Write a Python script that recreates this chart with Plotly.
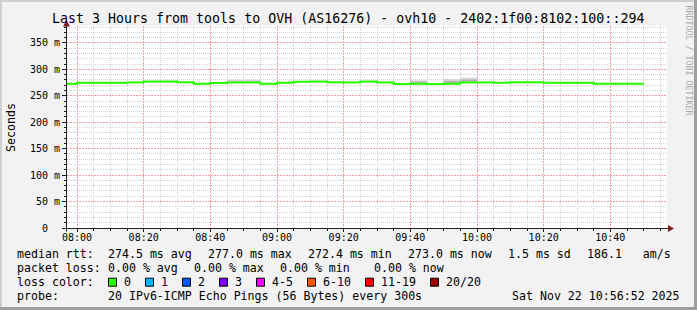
import plotly.graph_objects as go

# ---------------- data ----------------
DAY = "2025-11-22 "
times = ["07:55", "08:00", "08:05", "08:10", "08:15", "08:20", "08:25", "08:30", "08:35",
         "08:40", "08:45", "08:50", "08:55", "09:00", "09:05", "09:10", "09:15", "09:20",
         "09:25", "09:30", "09:35", "09:40", "09:45", "09:50", "09:55", "10:00", "10:05",
         "10:10", "10:15", "10:20", "10:25", "10:30", "10:35", "10:40", "10:45"]
end_time = "10:50"
median_ms = [272.6, 274.6, 274.6, 274.6, 275.2, 277.0, 277.0, 275.6, 272.8,
             274.4, 275.0, 275.2, 272.9, 274.6, 276.8, 276.9, 275.4, 275.3,
             276.9, 275.0, 272.5, 272.6, 272.5, 272.8, 275.2, 275.0, 274.9,
             275.8, 275.8, 274.8, 274.9, 274.8, 273.0, 272.9, 273.0]
smoke_min = [271.6, 273.6, 273.6, 273.6, 274.2, 276.0, 276.0, 274.6, 271.8,
             273.4, 274.0, 274.2, 271.9, 273.6, 275.8, 275.9, 274.4, 274.3,
             275.9, 274.0, 271.5, 271.6, 271.5, 271.8, 274.2, 274.0, 273.9,
             274.8, 274.8, 273.8, 273.9, 273.8, 272.0, 271.9, 272.0]
smoke_max = [273.6, 275.6, 275.6, 275.6, 276.2, 278.0, 278.0, 276.6, 273.8,
             275.4, 280.5, 280.5, 273.9, 275.6, 277.8, 277.9, 276.4, 276.3,
             277.9, 276.0, 273.5, 279.5, 273.5, 281.5, 284.0, 276.0, 275.9,
             276.8, 276.8, 275.8, 275.9, 275.8, 274.0, 273.9, 274.0]
smoke_q3 = [273.0, 275.0, 275.0, 275.0, 275.6, 277.4, 277.4, 276.0, 273.2,
            274.8, 277.5, 277.5, 273.3, 275.0, 277.2, 277.3, 275.8, 275.7,
            277.3, 275.4, 272.9, 276.5, 272.9, 278.0, 281.0, 275.4, 275.3,
            276.2, 276.2, 275.2, 275.3, 275.2, 273.4, 273.3, 273.4]

x_range = ["07:57", "10:57"]
xtick_major = ["08:00", "08:20", "08:40", "09:00", "09:20", "09:40", "10:00", "10:20", "10:40"]
xtick_minor = ["08:05", "08:10", "08:15", "08:25", "08:30", "08:35", "08:45", "08:50", "08:55",
               "09:05", "09:10", "09:15", "09:25", "09:30", "09:35", "09:45", "09:50", "09:55",
               "10:05", "10:10", "10:15", "10:25", "10:30", "10:35", "10:45", "10:50", "10:55"]
ytick_vals = [0, 50, 100, 150, 200, 250, 300, 350]
ytick_text = ["0\u00a0\u00a0", "50 m", "100 m", "150 m", "200 m", "250 m", "300 m", "350 m"]
ytick_minor = [10, 20, 30, 40, 60, 70, 80, 90, 110, 120, 130, 140, 160, 170, 180, 190,
               210, 220, 230, 240, 260, 270, 280, 290, 310, 320, 330, 340, 360, 370, 380]

title_text = "Last 3 Hours from tools to OVH (AS16276) - ovh10 - 2402:1f00:8102:100::294"
rtt_items = ["274.5 ms avg", "277.0 ms max", "272.4 ms min", "273.0 ms now", "1.5 ms sd", "186.1   am/s"]
loss_items = ["0.00 % avg", "0.00 % max", "0.00 % min", "0.00 % now"]
loss_labels = ["0", "1", "2", "3", "4-5", "6-10", "11-19", "20/20"]
loss_colors = ["#26ff00", "#00b8ff", "#0059ff", "#7e00ff", "#ff00ff", "#ff5500", "#ff0000", "#a10000"]
probe_text = "20 IPv6-ICMP Echo Pings (56 Bytes) every 300s"
date_text = "Sat Nov 22 10:56:52 2025"

# ---------------- layout helpers (pixel -> paper) ----------------
W, H = 697, 310
L, R, T, B = 67, 667, 26, 228
def px(p):
    return (p - L) / (R - L)
def py(p):
    return (B - p) / (B - T)
def nb(s):
    return s.replace(" ", "\u00a0")

xs = [DAY + t for t in times] + [DAY + end_time]
def ext(a):
    return list(a) + [a[-1]]

MONO = "DejaVu Sans Mono"
fig = go.Figure()
# smoke outer
fig.add_trace(go.Scatter(x=xs, y=ext(smoke_min), mode="lines", line=dict(width=0, shape="hv"),
                         hoverinfo="skip"))
fig.add_trace(go.Scatter(x=xs, y=ext(smoke_max), mode="lines", line=dict(width=0, shape="hv"),
                         fill="tonexty", fillcolor="#d6d6d6", hoverinfo="skip"))
# smoke inner
fig.add_trace(go.Scatter(x=xs, y=ext(smoke_min), mode="lines", line=dict(width=0, shape="hv"),
                         hoverinfo="skip"))
fig.add_trace(go.Scatter(x=xs, y=ext(smoke_q3), mode="lines", line=dict(width=0, shape="hv"),
                         fill="tonexty", fillcolor="#b4b4b4", hoverinfo="skip"))
# median
fig.add_trace(go.Scatter(x=xs, y=ext(median_ms), mode="lines",
                         line=dict(width=2, color=loss_colors[0], shape="hv")))

shapes = []
# frame
shapes.append(dict(type="rect", xref="paper", yref="paper", x0=px(0), x1=px(W), y0=py(0), y1=py(2),
                   fillcolor="#cfcfcf", line=dict(width=0), layer="above"))
shapes.append(dict(type="rect", xref="paper", yref="paper", x0=px(0), x1=px(2), y0=py(0), y1=py(H),
                   fillcolor="#cfcfcf", line=dict(width=0), layer="above"))
shapes.append(dict(type="rect", xref="paper", yref="paper", x0=px(W - 3), x1=px(W), y0=py(0), y1=py(H),
                   fillcolor="#9e9e9e", line=dict(width=0), layer="above"))
shapes.append(dict(type="rect", xref="paper", yref="paper", x0=px(0), x1=px(W), y0=py(H - 3), y1=py(H),
                   fillcolor="#9e9e9e", line=dict(width=0), layer="above"))
# axes
shapes.append(dict(type="line", xref="paper", yref="paper", x0=px(66.5), x1=px(66.5), y0=py(231.5), y1=py(24),
                   line=dict(color="#1f1f1f", width=1), layer="above"))
shapes.append(dict(type="line", xref="paper", yref="paper", x0=px(62), x1=px(669), y0=py(228.5), y1=py(228.5),
                   line=dict(color="#1f1f1f", width=1), layer="above"))
# arrows
def tri(pts):
    return "M " + " L ".join(f"{px(a)},{py(b)}" for a, b in pts) + " Z"
shapes.append(dict(type="path", xref="paper", yref="paper", path=tri([(66.5, 20), (63, 26.5), (70, 26.5)]),
                   fillcolor="#801f1f", line=dict(width=0), layer="above"))
shapes.append(dict(type="path", xref="paper", yref="paper", path=tri([(674, 228.5), (668, 225), (668, 232)]),
                   fillcolor="#801f1f", line=dict(width=0), layer="above"))

ann = []
def text(s, x, y, size=11.6, anchor="left", color="black", angle=0):
    ann.append(dict(text=nb(s), x=px(x), y=py(y), xref="paper", yref="paper", showarrow=False,
                    xanchor=anchor, yanchor="middle", borderpad=0, textangle=angle,
                    font=dict(family=MONO, size=size, color=color)))

text(title_text, 348, 19, size=13.3, anchor="center")
text("Seconds", 10.5, 127.5, angle=-90, anchor="center")
text("RRDTOOL / TOBI OETIKER", 688.5, 60, size=8.3, anchor="center", color="#a8a8a8", angle=90)

y1, y2, y3, y4 = 254.5, 268.3, 282.2, 296
text("median rtt:", 16, y1)
for s, x in zip(rtt_items, [107.3, 207.3, 307.3, 407.3, 507.3, 586]):
    text(s, x, y1)
text("packet loss:", 16, y2)
for s, x in zip(loss_items, [107.3, 193.3, 279.3, 373.3]):
    text(s, x, y2)
text("loss color:", 16, y3)
bx = 108
for lab, col in zip(loss_labels, loss_colors):
    shapes.append(dict(type="rect", xref="paper", yref="paper", x0=px(bx + 0.5), x1=px(bx + 8.5),
                       y0=py(y3 + 4), y1=py(y3 - 4), fillcolor=col,
                       line=dict(color="black", width=1), layer="above"))
    text(lab, bx + 14.7, y3)
    bx += 30 + 7 * len(lab)
text("probe:", 16, y4)
text(probe_text, 107.3, y4)
text(date_text, 681, y4, anchor="right")

MAJ = "#f0a0a0"
MIN = "#d2d2d2"
fig.update_layout(
    width=W, height=H, margin=dict(l=L, r=W - R, t=T, b=H - B, pad=0),
    paper_bgcolor="#f2f2f2", plot_bgcolor="white", showlegend=False,
    shapes=shapes, annotations=ann,
    xaxis=dict(type="date", range=[DAY + x_range[0], DAY + x_range[1]],
               tickmode="array", tickvals=[DAY + t for t in xtick_major], ticktext=xtick_major,
               ticks="outside", ticklen=3, tickcolor="#1f1f1f", ticklabelstandoff=-3,
               showgrid=True, gridcolor=MAJ, griddash="2px,1px", gridwidth=1,
               minor=dict(tickmode="array", tickvals=[DAY + t for t in xtick_minor], showgrid=True,
                          gridcolor=MIN, griddash="1px,1px", ticks="outside", ticklen=2,
                          tickcolor="#1f1f1f"),
               showline=False, zeroline=False, fixedrange=True,
               tickfont=dict(family=MONO, size=10, color="black")),
    yaxis=dict(range=[0, 382], tickmode="array", tickvals=ytick_vals, ticktext=ytick_text,
               ticks="outside", ticklen=4, tickcolor="#1f1f1f",
               showgrid=True, gridcolor=MAJ, griddash="2px,1px", gridwidth=1,
               minor=dict(tickmode="array", tickvals=ytick_minor, showgrid=True, gridcolor=MIN,
                          griddash="1px,1px", ticks="outside", ticklen=2, tickcolor="#1f1f1f"),
               showline=False, zeroline=False, fixedrange=True,
               tickfont=dict(family=MONO, size=10, color="black")),
)
fig.write_html("out.html", config={"displayModeBar": False})
